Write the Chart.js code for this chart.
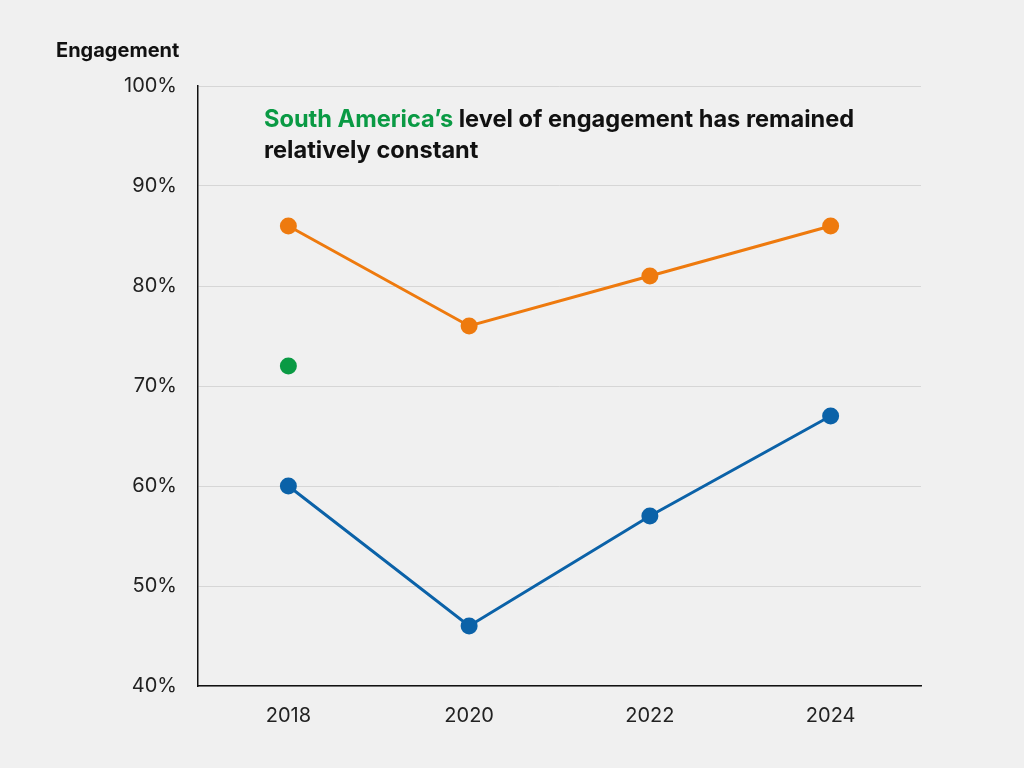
<!DOCTYPE html>
<html>
<head>
<meta charset="utf-8">
<script src="https://cdn.jsdelivr.net/npm/chart.js@4"></script>
<style>
  html, body { margin: 0; padding: 0; background: #f0f0f0; }
  #wrap { width: 1024px; height: 768px; }
</style>
</head>
<body>
<div id="wrap"><canvas id="engagementChart" width="1024" height="768"></canvas></div>
<script>
const years = ['2018', '2020', '2022', '2024'];
const orangeValues = [86, 76, 81, 86];
const blueValues = [60, 46, 57, 67];
const southAmericaValues = [72, null, null, null];
const yTicks = [40, 50, 60, 70, 80, 90, 100];

const FONT = 'Inter, "Open Sans", sans-serif';

// title + annotation drawn on top of the chart
const textPlugin = {
  id: 'textPlugin',
  afterDraw(chart) {
    const ctx = chart.ctx;
    const area = chart.chartArea;
    ctx.save();
    ctx.textBaseline = 'middle';
    ctx.textAlign = 'left';
    ctx.fillStyle = '#111';
    ctx.font = '700 20px ' + FONT;
    ctx.fillText('Engagement', 56, 51);

    ctx.font = '700 23.6px ' + FONT;
    const x = area.left + 66;
    const green = 'South America\u2019s';
    ctx.fillStyle = '#0a9a44';
    ctx.fillText(green, x, 120);
    const w = ctx.measureText(green + ' ').width;
    ctx.fillStyle = '#111';
    ctx.fillText('level of engagement has remained', x + w, 120);
    ctx.fillText('relatively constant', x, 151);
    ctx.restore();
  }
};

const pointStyle = { pointRadius: 8.5, pointHoverRadius: 8.5, pointBorderWidth: 0 };

new Chart(document.getElementById('engagementChart'), {
  type: 'line',
  data: {
    labels: years,
    datasets: [
      {
        label: 'Orange',
        data: orangeValues,
        borderColor: '#ee7a0e',
        backgroundColor: '#ee7a0e',
        borderWidth: 3,
        fill: false,
        ...pointStyle
      },
      {
        label: 'Blue',
        data: blueValues,
        borderColor: '#0b62a8',
        backgroundColor: '#0b62a8',
        borderWidth: 3,
        fill: false,
        ...pointStyle
      },
      {
        label: 'South America',
        data: southAmericaValues,
        borderColor: '#0a9a44',
        backgroundColor: '#0a9a44',
        showLine: false,
        ...pointStyle
      }
    ]
  },
  options: {
    responsive: false,
    animation: false,
    layout: { padding: { top: 86, right: 103, left: 0, bottom: 0 } },
    plugins: {
      legend: { display: false },
      tooltip: { enabled: false }
    },
    scales: {
      x: {
        offset: true,
        grid: { display: false },
        border: { display: true, color: '#111', width: 1.5 },
        ticks: { color: '#222', font: { family: FONT, size: 20 }, padding: 10 },
        afterFit: s => { s.height = 82; }
      },
      y: {
        min: 40,
        max: 100,
        afterBuildTicks: s => { s.ticks = yTicks.map(v => ({ value: v })); },
        grid: { color: '#d6d6d6', lineWidth: 1, drawTicks: false },
        border: { display: true, color: '#111', width: 1.5 },
        ticks: {
          color: '#222',
          font: { family: FONT, size: 20 },
          padding: 21,
          callback: v => v + '%'
        },
        afterFit: s => { s.width = 198; }
      }
    }
  },
  plugins: [textPlugin]
});
</script>
</body>
</html>
